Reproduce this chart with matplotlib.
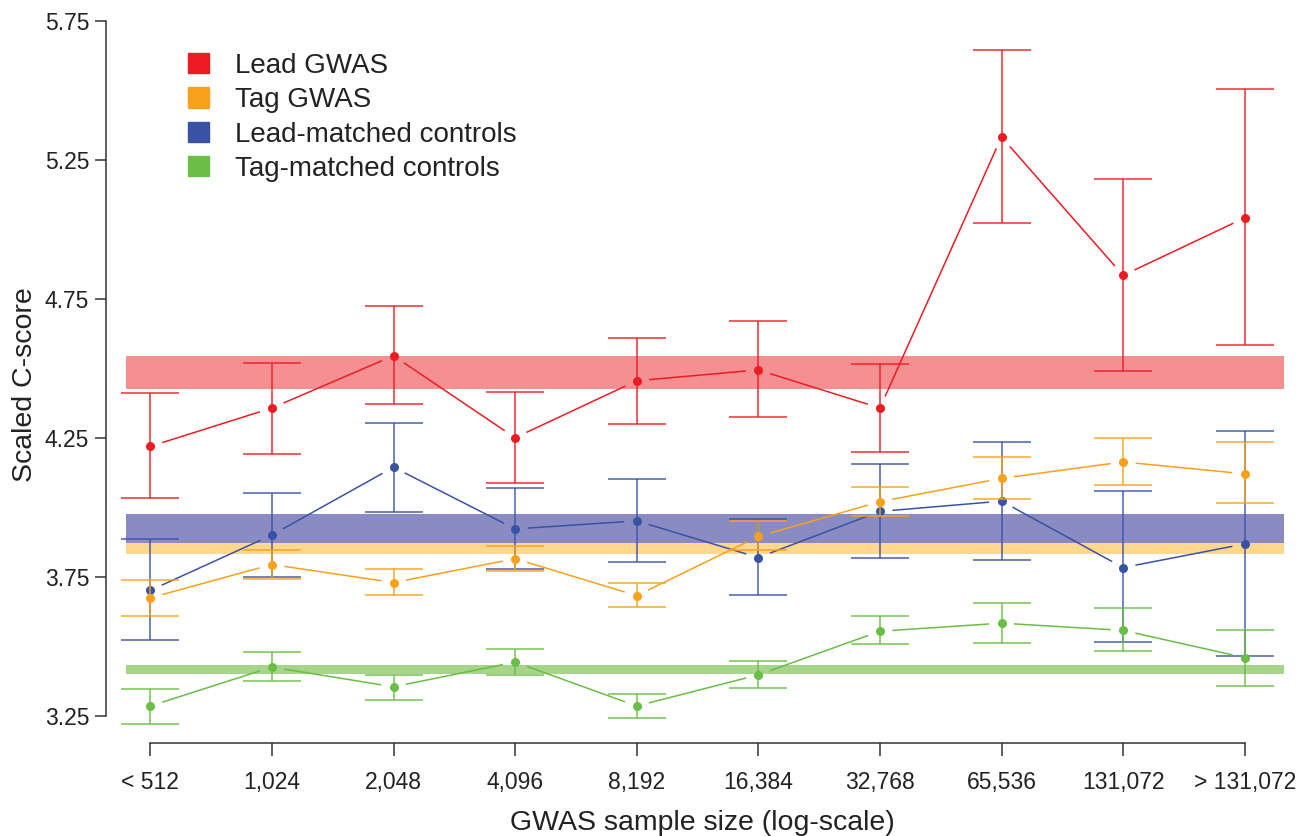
import numpy as np
import matplotlib
matplotlib.use('Agg')
import matplotlib.pyplot as plt
from matplotlib.patches import Patch

plt.rcParams['font.family'] = ['Liberation Sans', 'DejaVu Sans']

labels = ['< 512', '1,024', '2,048', '4,096', '8,192', '16,384',
          '32,768', '65,536', '131,072', '> 131,072']

lead_y  = [4.221, 4.359, 4.547, 4.252, 4.457, 4.496, 4.359, 5.334, 4.836, 5.043]
lead_hi = [4.412, 4.522, 4.725, 4.415, 4.612, 4.672, 4.519, 5.646, 5.182, 5.506]
lead_lo = [4.034, 4.194, 4.373, 4.091, 4.300, 4.326, 4.199, 5.024, 4.491, 4.585]

tag_y  = [3.676, 3.796, 3.731, 3.817, 3.684, 3.897, 4.022, 4.106, 4.165, 4.122]
tag_hi = [3.742, 3.847, 3.780, 3.864, 3.730, 3.954, 4.074, 4.182, 4.250, 4.236]
tag_lo = [3.612, 3.745, 3.685, 3.771, 3.643, 3.848, 3.971, 4.031, 4.081, 4.016]

leadc_y  = [3.703, 3.902, 4.146, 3.924, 3.953, 3.821, 3.987, 4.024, 3.785, 3.870]
leadc_hi = [3.886, 4.052, 4.305, 4.070, 4.103, 3.959, 4.159, 4.238, 4.059, 4.277]
leadc_lo = [3.523, 3.751, 3.985, 3.779, 3.805, 3.685, 3.818, 3.812, 3.518, 3.468]

tagc_y  = [3.287, 3.427, 3.356, 3.445, 3.287, 3.399, 3.556, 3.585, 3.559, 3.461]
tagc_hi = [3.347, 3.480, 3.400, 3.492, 3.330, 3.449, 3.609, 3.658, 3.641, 3.561]
tagc_lo = [3.224, 3.378, 3.310, 3.400, 3.245, 3.352, 3.510, 3.513, 3.484, 3.359]

# overall bands (lo, hi)
band_lead  = (4.426, 4.546)
band_tag   = (3.835, 3.873)
band_leadc = (3.874, 3.979)
band_tagc  = (3.402, 3.434)

RED, ORANGE, BLUE, GREEN = '#ED1C24', '#F9A11B', '#3953A4', '#6ABD45'

W, H = 1299, 836
fig = plt.figure(figsize=(W / 100, H / 100), dpi=100)
ax = fig.add_axes([106 / W, (H - 743) / H, (W - 106) / W, 743 / H])

x = np.arange(len(labels))
px = 121.6  # pixels per category
ax.set_xlim((106 - 150.3) / px, (W - 150.3) / px)
ax.set_ylim(5.75 - (743 - 21.3) / 278, 5.75 + 21.3 / 278)

# horizontal bands
bx = [-0.2, 9.32]
ax.fill_between(bx, *band_lead, color='#F48F92', lw=0, zorder=1)
ax.fill_between(bx, *band_tag, color='#FFD78F', lw=0, zorder=1)
ax.fill_between(bx, *band_leadc, color='#898BC2', lw=0, zorder=1.1)
ax.fill_between(bx, *band_tagc, color='#A6D48B', lw=0, zorder=1)


def gapped(xs, ys, color, z, gap=12.5):
    pts = ax.transData.transform(np.column_stack([xs, ys]))
    inv = ax.transData.inverted()
    for p, q in zip(pts[:-1], pts[1:]):
        d = q - p
        u = d / np.hypot(*d)
        a, b = inv.transform(np.array([p + u * gap, q - u * gap]))
        ax.plot([a[0], b[0]], [a[1], b[1]], color=color, lw=1.1,
                zorder=z, solid_capstyle='butt')


series = [
    (lead_y, lead_lo, lead_hi, RED, 3),
    (leadc_y, leadc_lo, leadc_hi, BLUE, 4),
    (tag_y, tag_lo, tag_hi, ORANGE, 5),
    (tagc_y, tagc_lo, tagc_hi, GREEN, 6),
]
for y, lo, hi, c, z in series:
    y = np.array(y)
    err = [y - np.array(lo), np.array(hi) - y]
    ax.errorbar(x, y, yerr=err, fmt='none', ecolor=c, elinewidth=1.2,
                capsize=21, capthick=1.2, alpha=0.85, zorder=z)
    gapped(x, y, c, z)
    ax.plot(x, y, 'o', color=c, ms=6.5, mec='none', zorder=z + 0.5)

# axes styling
for s in ['top', 'right']:
    ax.spines[s].set_visible(False)
ax.spines['left'].set_bounds(3.25, 5.75)
ax.spines['bottom'].set_bounds(0, 9)
for s in ['left', 'bottom']:
    ax.spines[s].set_color('#333333')
    ax.spines[s].set_linewidth(1.1)

ax.set_yticks([3.25, 3.75, 4.25, 4.75, 5.25, 5.75])
ax.set_yticklabels(['3.25', '3.75', '4.25', '4.75', '5.25', '5.75'])
ax.set_xticks(x)
ax.set_xticklabels(labels)
ax.tick_params(axis='y', length=8, width=1.1, color='#333333', pad=4,
               labelsize=16.5, labelcolor='#222222')
ax.tick_params(axis='x', length=9, width=1.1, color='#333333', pad=11,
               labelsize=16.5, labelcolor='#222222')

ax.set_xlabel('GWAS sample size (log-scale)', fontsize=20.5, color='#222222',
              labelpad=12)
ax.set_ylabel('Scaled C-score', fontsize=20.5, color='#222222')
ax.yaxis.set_label_coords(-0.057, 0.483)

handles = [Patch(color=RED), Patch(color=ORANGE), Patch(color=BLUE),
           Patch(color=GREEN)]
names = ['Lead GWAS', 'Tag GWAS', 'Lead-matched controls',
         'Tag-matched controls']
ax.legend(handles, names, loc='upper left',
          bbox_to_anchor=(188 / W, 1 - 53 / H), bbox_transform=fig.transFigure,
          frameon=False, fontsize=20, handlelength=0.75, handleheight=0.75,
          handletextpad=0.95, labelspacing=0.3, borderaxespad=0,
          borderpad=0, labelcolor='#222222')

fig.savefig('out.png', dpi=100)
